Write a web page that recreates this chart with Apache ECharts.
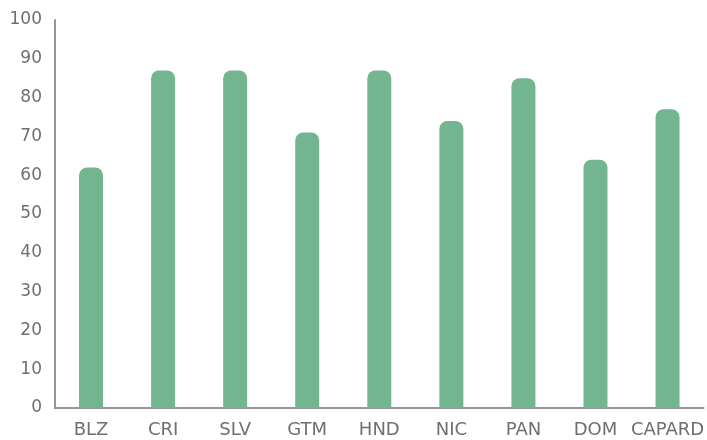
<!DOCTYPE html>
<html><head><meta charset="utf-8">
<script src="https://cdn.jsdelivr.net/npm/echarts@6/dist/echarts.min.js"></script>
<style>html,body{margin:0;padding:0;background:#fff}#c{width:707px;height:440px}</style>
</head><body><div id="c"></div>
<script>
const categories = ['BLZ','CRI','SLV','GTM','HND','NIC','PAN','DOM','CAPARD'];
const values = [62, 87, 87, 71, 87, 74, 85, 64, 77];
const chart = echarts.init(document.getElementById('c'));
chart.setOption({
  animation: false,
  grid: {left: 55, right: 0, top: 20, bottom: 32},
  xAxis: {
    type: 'category', data: categories,
    axisLine: {lineStyle: {color: '#9a9595', width: 2}},
    axisTick: {show: false},
    axisLabel: {color: '#6f6f6f', fontSize: 18, fontFamily: 'DejaVu Sans', margin: 13, interval: 0}
  },
  yAxis: {
    type: 'value', min: 0, max: 100, interval: 10,
    axisLine: {show: true, lineStyle: {color: '#9a9595', width: 2}},
    axisTick: {show: false},
    splitLine: {show: false},
    axisLabel: {color: '#6f6f6f', fontSize: 17, fontFamily: 'DejaVu Sans', margin: 13}
  },
  series: [{
    type: 'bar', data: values, barWidth: 24,
    itemStyle: {color: '#73b491', borderRadius: [8, 8, 0, 0]}
  }]
});
</script></body></html>
